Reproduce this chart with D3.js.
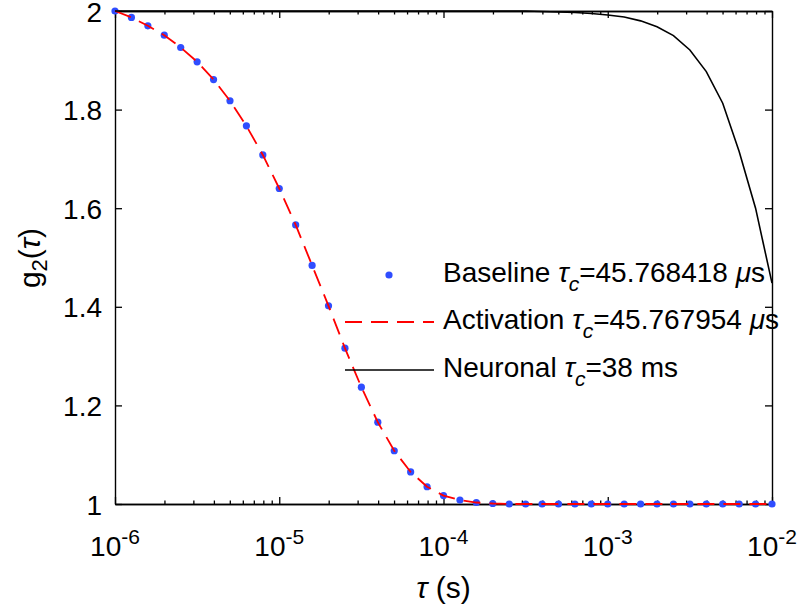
<!DOCTYPE html>
<html>
<head>
<meta charset="utf-8">
<script src="https://cdn.jsdelivr.net/npm/d3@7"></script>
<style>
  html, body { margin: 0; padding: 0; background: #fff; }
  svg { display: block; }
  text { font-family: "Liberation Sans", Arial, Helvetica, sans-serif; fill: #000; }
</style>
</head>
<body>
<svg id="chart" width="800" height="610"></svg>
<script>
// ---- data ----
const taus = [
  1e-6, 1.259e-6, 1.585e-6, 1.995e-6, 2.512e-6, 3.162e-6, 3.981e-6, 5.012e-6, 6.310e-6, 7.943e-6,
  1e-5, 1.259e-5, 1.585e-5, 1.995e-5, 2.512e-5, 3.162e-5, 3.981e-5, 5.012e-5, 6.310e-5, 7.943e-5,
  1e-4, 1.259e-4, 1.585e-4, 1.995e-4, 2.512e-4, 3.162e-4, 3.981e-4, 5.012e-4, 6.310e-4, 7.943e-4,
  1e-3, 1.259e-3, 1.585e-3, 1.995e-3, 2.512e-3, 3.162e-3, 3.981e-3, 5.012e-3, 6.310e-3, 7.943e-3,
  1e-2
];
const baseline = [
  2.000, 1.987, 1.970, 1.951, 1.926, 1.897, 1.861, 1.818, 1.767, 1.708,
  1.640, 1.566, 1.484, 1.402, 1.316, 1.237, 1.166, 1.108, 1.065, 1.035,
  1.017, 1.008, 1.003, 1.001, 1.000, 1.000, 1.000, 1.000, 1.000, 1.000,
  1.000, 1.000, 1.000, 1.000, 1.000, 1.000, 1.000, 1.000, 1.000, 1.000,
  1.000
];
const activation = [
  2.000, 1.987, 1.970, 1.951, 1.926, 1.897, 1.861, 1.818, 1.767, 1.708,
  1.640, 1.566, 1.484, 1.402, 1.316, 1.237, 1.166, 1.108, 1.065, 1.035,
  1.017, 1.008, 1.003, 1.001, 1.000, 1.000, 1.000, 1.000, 1.000, 1.000,
  1.000, 1.000, 1.000, 1.000, 1.000, 1.000, 1.000, 1.000, 1.000, 1.000,
  1.000
];
const neuronal = [
  2.000, 2.000, 2.000, 2.000, 2.000, 2.000, 2.000, 2.000, 2.000, 2.000,
  2.000, 2.000, 2.000, 2.000, 2.000, 2.000, 2.000, 2.000, 2.000, 2.000,
  2.000, 2.000, 2.000, 2.000, 2.000, 2.000, 1.999, 1.998, 1.997, 1.995,
  1.992, 1.988, 1.980, 1.968, 1.950, 1.921, 1.877, 1.813, 1.715, 1.600,
  1.448
];
const xMajorTicks = [1e-6, 1e-5, 1e-4, 1e-3, 1e-2];
const xTickExponents = ["-6", "-5", "-4", "-3", "-2"];
const yTicks = [1, 1.2, 1.4, 1.6, 1.8, 2];
const yTickLabels = ["1", "1.2", "1.4", "1.6", "1.8", "2"];
const legendNames = ["Baseline", "Activation", "Neuronal"];
const legendValues = ["=45.768418 ", "=45.767954 ", "=38 ms"];
const legendUnitsMu = [true, true, false];

// ---- layout ----
const svg = d3.select("#chart");
const L = 115, R = 772, T = 11, B = 504;
const x = d3.scaleLog().domain([1e-6, 1e-2]).range([L, R]);
const y = d3.scaleLinear().domain([1, 2]).range([B, T]);
const FS = 28;   // tick / legend font
const LFS = 30;  // axis-label font

const minorTicks = x.ticks().filter(v => !xMajorTicks.some(m => Math.abs(m - v) / m < 1e-9));

function styleAxis(g) {
  g.selectAll("path.domain").attr("stroke", "#000").attr("stroke-width", 1.4);
  g.selectAll(".tick line").attr("stroke", "#000").attr("stroke-width", 1.3);
  g.selectAll(".tick text").remove();
}

// bottom axis
svg.append("g").attr("transform", `translate(0,${B})`)
  .call(d3.axisBottom(x).tickValues(xMajorTicks).tickSize(-7).tickSizeOuter(0).tickFormat(""))
  .call(styleAxis);
svg.append("g").attr("transform", `translate(0,${B})`)
  .call(d3.axisBottom(x).tickValues(minorTicks).tickSize(-3.5).tickSizeOuter(0).tickFormat(""))
  .call(styleAxis);
// top axis
svg.append("g").attr("transform", `translate(0,${T})`)
  .call(d3.axisTop(x).tickValues(xMajorTicks).tickSize(-7).tickSizeOuter(0).tickFormat(""))
  .call(styleAxis);
svg.append("g").attr("transform", `translate(0,${T})`)
  .call(d3.axisTop(x).tickValues(minorTicks).tickSize(-3.5).tickSizeOuter(0).tickFormat(""))
  .call(styleAxis);
// left axis
svg.append("g").attr("transform", `translate(${L},0)`)
  .call(d3.axisLeft(y).tickValues(yTicks).tickSize(-7).tickSizeOuter(0).tickFormat(""))
  .call(styleAxis);
// right axis
svg.append("g").attr("transform", `translate(${R},0)`)
  .call(d3.axisRight(y).tickValues(yTicks).tickSize(-7).tickSizeOuter(0).tickFormat(""))
  .call(styleAxis);

// y tick labels
svg.append("g").selectAll("text").data(yTicks).join("text")
  .attr("x", L - 13)
  .attr("y", d => y(d) + 10.5)
  .attr("text-anchor", "end")
  .attr("font-size", FS)
  .text((d, i) => yTickLabels[i]);

// x tick labels (10^n)
const xl = svg.append("g").selectAll("text").data(xMajorTicks).join("text")
  .attr("x", d => x(d))
  .attr("y", 556)
  .attr("text-anchor", "middle")
  .attr("font-size", FS);
xl.append("tspan").text("10");
xl.append("tspan").attr("font-size", 21).attr("dy", -12).text((d, i) => xTickExponents[i]);

// x axis label
const xlab = svg.append("text").attr("x", (L + R) / 2).attr("y", 598)
  .attr("text-anchor", "middle").attr("font-size", LFS);
xlab.append("tspan").attr("font-style", "italic").text("τ");
xlab.append("tspan").text(" (s)");

// y axis label
const ylab = svg.append("text")
  .attr("transform", "translate(40,258) rotate(-90)")
  .attr("text-anchor", "middle").attr("font-size", LFS);
ylab.append("tspan").text("g");
ylab.append("tspan").attr("font-size", 22).attr("dy", 7).text("2");
ylab.append("tspan").attr("dy", -7).text("(");
ylab.append("tspan").attr("font-style", "italic").text("τ");
ylab.append("tspan").text(")");

// ---- marks ----
const pts = taus.map((t, i) => ({ t, b: baseline[i], a: activation[i], n: neuronal[i] }));

svg.append("g").selectAll("circle").data(pts).join("circle")
  .attr("cx", d => x(d.t)).attr("cy", d => y(d.b)).attr("r", 3.6)
  .attr("fill", "#2f4dff");

svg.append("path").datum(pts)
  .attr("fill", "none").attr("stroke", "#ff0000").attr("stroke-width", 1.8)
  .attr("stroke-dasharray", "17,9")
  .attr("d", d3.line().x(d => x(d.t)).y(d => y(d.a)));

svg.append("path").datum(pts)
  .attr("fill", "none").attr("stroke", "#000").attr("stroke-width", 1.6)
  .attr("d", d3.line().x(d => x(d.t)).y(d => y(d.n)));

// ---- legend ----
const rowY = [275, 322, 370];
const lg = svg.append("g");
lg.append("circle").attr("cx", 389).attr("cy", rowY[0]).attr("r", 3.6).attr("fill", "#2f4dff");
lg.append("line").attr("x1", 345).attr("x2", 434).attr("y1", rowY[1]).attr("y2", rowY[1])
  .attr("stroke", "#ff0000").attr("stroke-width", 1.8).attr("stroke-dasharray", "17,9");
lg.append("line").attr("x1", 345).attr("x2", 434).attr("y1", rowY[2]).attr("y2", rowY[2])
  .attr("stroke", "#000").attr("stroke-width", 1.6);

legendNames.forEach((name, i) => {
  const t = lg.append("text").attr("x", 443).attr("y", rowY[i] + 7).attr("font-size", FS);
  t.append("tspan").text(name + " ");
  t.append("tspan").attr("font-style", "italic").text("τ");
  t.append("tspan").attr("font-style", "italic").attr("font-size", 21).attr("dy", 9).text("c");
  t.append("tspan").attr("dy", -9).text(legendValues[i]);
  if (legendUnitsMu[i]) {
    t.append("tspan").attr("font-style", "italic").text("μ");
    t.append("tspan").text("s");
  }
});
</script>
</body>
</html>
